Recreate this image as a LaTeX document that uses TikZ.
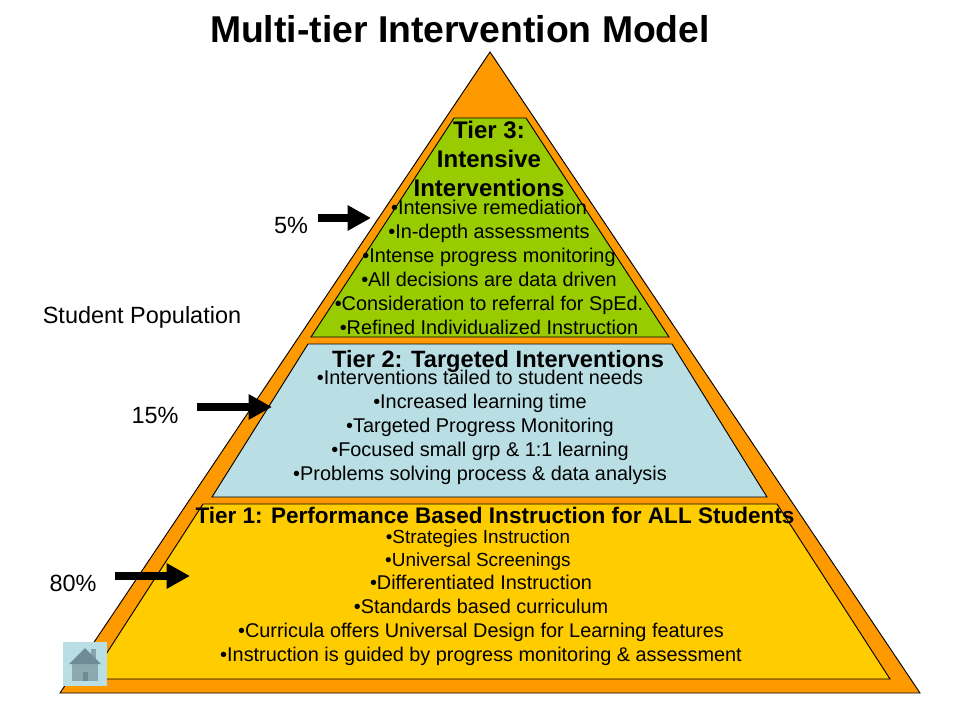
\documentclass[tikz,border=0pt]{standalone}
\usepackage{fontspec}
\setmainfont{Liberation Sans}
\usetikzlibrary{arrows.meta}
\definecolor{pyrorange}{HTML}{FF9900}
\definecolor{tiergreen}{HTML}{99CC00}
\definecolor{tierblue}{HTML}{B9DEE3}
\definecolor{tiergold}{HTML}{FFCC00}
\definecolor{homeroof}{HTML}{6F8B95}
\definecolor{homewall}{HTML}{8DA9B0}
\definecolor{homedoor}{HTML}{6F8B95}
\tikzset{
  x=0.75pt,y=-0.75pt,
  tier/.style={draw=black,line width=0.7pt,line join=miter},
  bodytext/.style={inner sep=0pt,align=center,font=\fontsize{14.9}{18}\selectfont},
  headtext/.style={inner sep=0pt,align=center,font=\fontsize{18}{22}\selectfont\bfseries},
  label/.style={inner sep=0pt,font=\fontsize{17.6}{20}\selectfont},
  bigarrow/.style={line width=6pt,-{Triangle[length=17.5pt,width=18pt]}}
}
\begin{document}
\begin{tikzpicture}
\useasboundingbox (0,0) rectangle (960,720);
\fill[white] (0,0) rectangle (960,720);
\node[inner sep=0pt,font=\fontsize{28}{32}\selectfont\bfseries] (title) at (460,29) {Multi-tier Intervention Model};
\draw[tier,fill=pyrorange] (490,52) -- (920,693) -- (60,693) -- cycle;
\draw[tier,fill=tiergreen] (454,118) -- (526,118) -- (669,337) -- (311,337) -- cycle;
\draw[tier,fill=tierblue] (308,344) -- (672,344) -- (767,497) -- (212,497) -- cycle;
\draw[tier,fill=tiergold] (203,504) -- (777,504) -- (890,679) -- (90,679) -- cycle;

\node[headtext] (t3head) at (489,159) {Tier 3:\\Intensive\\Interventions};
\node[bodytext] (t3body) at (489,267) {•Intensive remediation\\•In-depth assessments\\•Intense progress monitoring\\•All decisions are data driven\\•Consideration to referral for SpEd.\\•Refined Individualized Instruction};
\node[inner sep=0pt,font=\fontsize{17.7}{22}\selectfont\bfseries] (t2head) at (498,361) {Tier 2: Targeted Interventions};
\node[bodytext] (t2body) at (480,427) {•Interventions tailed to student needs\\•Increased learning time\\•Targeted Progress Monitoring\\•Focused small grp \& 1:1 learning\\•Problems solving process \& data analysis};
\node[inner sep=0pt,font=\fontsize{16.9}{22}\selectfont\bfseries] (t1head) at (495,515) {Tier 1: Performance Based Instruction for ALL Students};
\node[inner sep=0pt,align=center,font=\fontsize{14.2}{17}\selectfont] (t1small) at (478,550) {•Strategies Instruction\\•Universal Screenings};
\node[bodytext] (t1body) at (481,620) {•Differentiated Instruction\\•Standards based curriculum\\•Curricula offers Universal Design for Learning features\\•Instruction is guided by progress monitoring \& assessment};

\node[label] (pop) at (142,317) {Student Population};
\node[label] (p5) at (291,225) {5\%};
\node[label] (p15) at (155,415) {15\%};
\node[label] (p80) at (73,583) {80\%};
\coordinate (a5s) at (318,218);  \coordinate (a5e) at (371,218);
\coordinate (a15s) at (197,407); \coordinate (a15e) at (272,407);
\coordinate (a80s) at (115,576); \coordinate (a80e) at (190,576);
\draw[bigarrow] (a5s) -- (a5e);
\draw[bigarrow] (a15s) -- (a15e);
\draw[bigarrow] (a80s) -- (a80e);

\fill[tierblue] (63,642) rectangle (107,686);
\fill[homeroof!70!tierblue] (91,649) rectangle (96,662);
\fill[homewall] (72,664) rectangle (98,681);
\fill[homeroof] (69,664) -- (85,648) -- (101,664) -- cycle;
\fill[homedoor] (83,672) rectangle (88,681);
\end{tikzpicture}
\end{document}
